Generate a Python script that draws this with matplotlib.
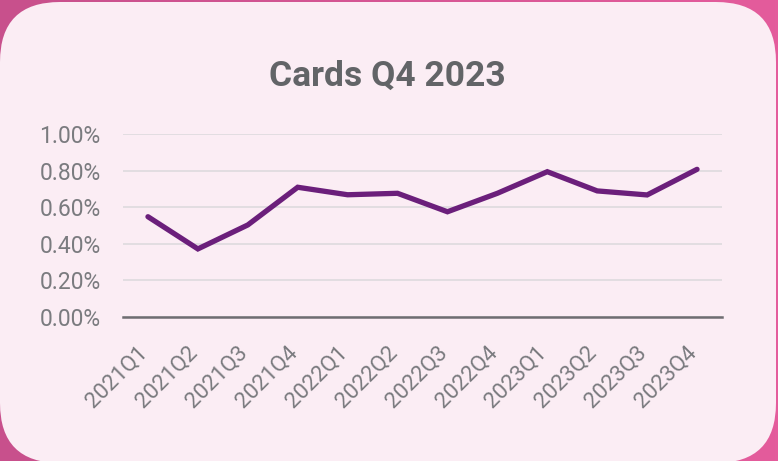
import numpy as np
import matplotlib
matplotlib.use("Agg")
import matplotlib.pyplot as plt
import matplotlib.transforms as mtransforms
from matplotlib.patches import FancyBboxPatch
from matplotlib.ticker import FuncFormatter

quarters = ["2021Q1", "2021Q2", "2021Q3", "2021Q4",
            "2022Q1", "2022Q2", "2022Q3", "2022Q4",
            "2023Q1", "2023Q2", "2023Q3", "2023Q4"]
rate_pct = [0.548, 0.372, 0.503, 0.709,
            0.668, 0.676, 0.575, 0.676,
            0.794, 0.689, 0.667, 0.807]
y_ticks = [0.0, 0.2, 0.4, 0.6, 0.8, 1.0]

W, H = 778, 461
TEXT = "#7a7b7f"
PURPLE = "#6b1f7b"

plt.rcParams["font.family"] = ["Roboto", "DejaVu Sans"]

fig = plt.figure(figsize=(W / 100, H / 100), dpi=100)

# pink backdrop with a soft left-to-right gradient, then the rounded card
bg = fig.add_axes([0, 0, 1, 1])
bg.set_xlim(0, W)
bg.set_ylim(H, 0)
bg.axis("off")
grad = np.linspace(0, 1, 256)[None, :]
left_c = np.array([200, 80, 140]) / 255
right_c = np.array([228, 92, 156]) / 255
img = left_c[None, None, :] * (1 - grad[..., None]) + right_c[None, None, :] * grad[..., None]
bg.imshow(img, extent=(0, W, H, 0), aspect="auto", zorder=0)
card = FancyBboxPatch((0, 2), 776, 461, boxstyle="round,pad=0,rounding_size=60",
                      facecolor="#fbedf4", edgecolor="none", zorder=1)
bg.add_patch(card)

bg.text(387, 76, "Cards Q4 2023", ha="center", va="center",
        fontsize=25.5, fontweight="bold", color="#626467", zorder=2)

ax = fig.add_axes([123 / W, (H - 317) / H, 599 / W, 183 / H])
ax.set_facecolor("none")
x = np.arange(len(quarters))
ax.plot(x, rate_pct, color=PURPLE, linewidth=3.8, solid_capstyle="round",
        solid_joinstyle="miter", zorder=3)

ax.set_xlim(-0.5, len(quarters) - 0.5)
ax.set_ylim(0, 1.0)
ax.set_yticks(y_ticks)
ax.yaxis.set_major_formatter(FuncFormatter(lambda v, _: f"{v:.2f}%"))
ax.grid(axis="y", color="#e2dde1", linewidth=1.4)
ax.set_axisbelow(True)
for lab in ax.get_yticklabels():
    lab.set_color(TEXT)
ax.tick_params(axis="y", length=0, pad=16, labelsize=16.5)

# slanted quarter labels, placed a bit left of and below each tick
ax.set_xticks(x)
ax.set_xticklabels([])
ax.tick_params(axis="x", length=0)
label_tf = mtransforms.offset_copy(ax.get_xaxis_transform(), fig=fig,
                                   x=-11, y=-25, units="dots")
for xi, q in zip(x, quarters):
    ax.text(xi, 0, q, transform=label_tf, rotation=45, ha="right", va="top",
            rotation_mode="anchor", fontsize=16, color=TEXT, clip_on=False)

for side in ["top", "right", "left"]:
    ax.spines[side].set_visible(False)
ax.spines["bottom"].set_color("#6e6d71")
ax.spines["bottom"].set_linewidth(1.8)

fig.savefig("out.png", dpi=100)
